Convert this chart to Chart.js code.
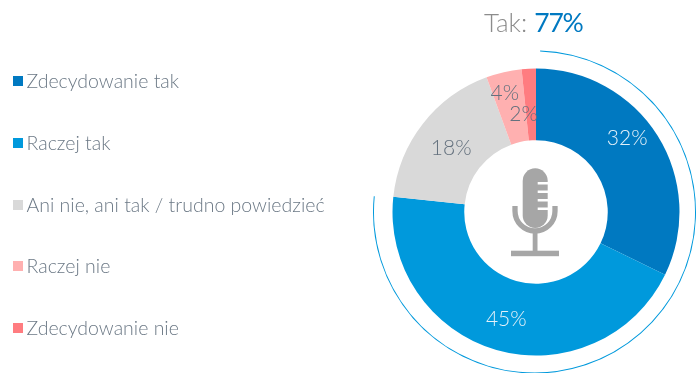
<!DOCTYPE html>
<html lang="pl">

<head>
    <meta charset="UTF-8">
    <title>Tak: 77%</title>
    <style>
        html, body { margin: 0; padding: 0; background: #fff; overflow: hidden; }
        main { position: relative; width: 699px; height: 373px; overflow: hidden; font-family: Lato, sans-serif; font-weight: 300; }
        canvas { position: absolute; left: 0; top: 0; }
        #Legenda { position: absolute; left: 13px; top: 81px; margin: 0; padding: 0; list-style: none; }
        #Legenda li { height: 61.8px; line-height: 0; white-space: nowrap; color: #6b7885; font-size: 19.5px; display: flex; align-items: flex-start; }
        #Legenda i { display: block; width: 10px; height: 10px; margin: -5px 3.5px 0 0; }
        #Legenda span { display: block; line-height: 0; }
        #Tytul { position: absolute; left: 484px; top: 6px; font-size: 26px; line-height: 32px; color: #8c8c8c; white-space: nowrap; }
        #Tytul b { color: #0079c1; font-weight: 400; font-size: 26.5px; letter-spacing: -1.2px; }
        #Mikrofon { position: absolute; left: 500px; top: 160px; }
    </style>
</head>

<body>
    <main>
        <canvas id="Luk" width="699" height="375"></canvas>
        <canvas id="Wykres" width="699" height="373"></canvas>
        <ul id="Legenda"></ul>
        <div id="Tytul">Tak: <b id="Razem"></b></div>
        <svg id="Mikrofon" width="72" height="104" viewBox="0 0 72 104">
            <rect x="22.7" y="8.3" width="25" height="59.7" rx="12.5" fill="#a6a6a6"/>
            <g fill="#fff">
                <rect x="37.7" y="22" width="10.5" height="2.5"/>
                <rect x="37.7" y="30.5" width="10.5" height="2.5"/>
                <rect x="37.7" y="39" width="10.5" height="2.5"/>
                <rect x="37.7" y="47.5" width="10.5" height="2.5"/>
            </g>
            <path d="M15 46 V51 A20 20 0 0 0 55 51 V46" fill="none" stroke="#a6a6a6" stroke-width="5.3"/>
            <rect x="32.7" y="72" width="4.8" height="19" fill="#a6a6a6"/>
            <rect x="11" y="90.7" width="48" height="5.5" fill="#a6a6a6"/>
        </svg>
    </main>
</body>

</html>
<script src="https://cdn.jsdelivr.net/npm/chart.js"></script>
<script>
    const kategorie = ['Zdecydowanie tak', 'Raczej tak', 'Ani nie, ani tak / trudno powiedzieć', 'Raczej nie', 'Zdecydowanie nie'];
    const wartosci = [32.2, 44.5, 17.7, 4, 1.6];
    const etykiety = ['32%', '45%', '18%', '4%', '2%'];
    const kolory = ['#0079c1', '#0099dc', '#d9d9d9', '#ffb0b0', '#ff7c80'];
    const razemTak = '77%';
    const lukTak = [76, 24];

    document.getElementById('Razem').textContent = razemTak;

    const legenda = document.getElementById('Legenda');
    for (let i = 0; i < kategorie.length; i++) {
        let li = document.createElement('li');
        li.innerHTML = `<i style="background:${kolory[i]}"></i><span>${kategorie[i]}</span>`;
        legenda.appendChild(li);
    }

    // przesuniecia napisow wzgledem srodka wycinka
    const przesuniecia = [[0, -17], [0, 4], [0, 2], [-7, -14], [-7, 10]];
    const koloryEtykiet = ['#e4f1f9', '#e4f1f9', '#64717e', '#64717e', '#64717e'];

    const napisy = {
        id: 'napisy',
        afterDatasetsDraw(chart) {
            const ctx = chart.ctx;
            ctx.save();
            ctx.font = '300 21px Lato, sans-serif';
            ctx.textAlign = 'center';
            ctx.textBaseline = 'middle';
            chart.getDatasetMeta(0).data.forEach((luk, i) => {
                const p = luk.tooltipPosition();
                ctx.fillStyle = koloryEtykiet[i];
                ctx.fillText(etykiety[i], p.x + przesuniecia[i][0], p.y + przesuniecia[i][1]);
            });
            ctx.restore();
        }
    };

    // cienki luk "Tak" ma inny srodek niz kolo, wiec osobny canvas
    new Chart(document.getElementById('Luk'), {
        type: 'doughnut',
        data: {
            datasets: [{
                data: lukTak,
                backgroundColor: ['#0099dc', 'rgba(0,0,0,0)'],
                borderWidth: 0
            }]
        },
        options: {
            responsive: false,
            animation: false,
            rotation: 2,
            cutout: '99.4%',
            layout: { padding: { left: 373, right: 3, top: 50.5, bottom: 1.5 } },
            plugins: {
                legend: { display: false },
                tooltip: { enabled: false }
            }
        }
    });

    new Chart(document.getElementById('Wykres'), {
        type: 'doughnut',
        data: {
            labels: kategorie,
            datasets: [{
                data: wartosci,
                backgroundColor: kolory,
                borderWidth: 0
            }]
        },
        plugins: [napisy],
        options: {
            responsive: false,
            animation: false,
            cutout: '50%',
            layout: { padding: { left: 392.5, right: 19.5, top: 68.5, bottom: 17.5 } },
            plugins: {
                legend: { display: false },
                tooltip: { enabled: false }
            }
        }
    });
</script>
